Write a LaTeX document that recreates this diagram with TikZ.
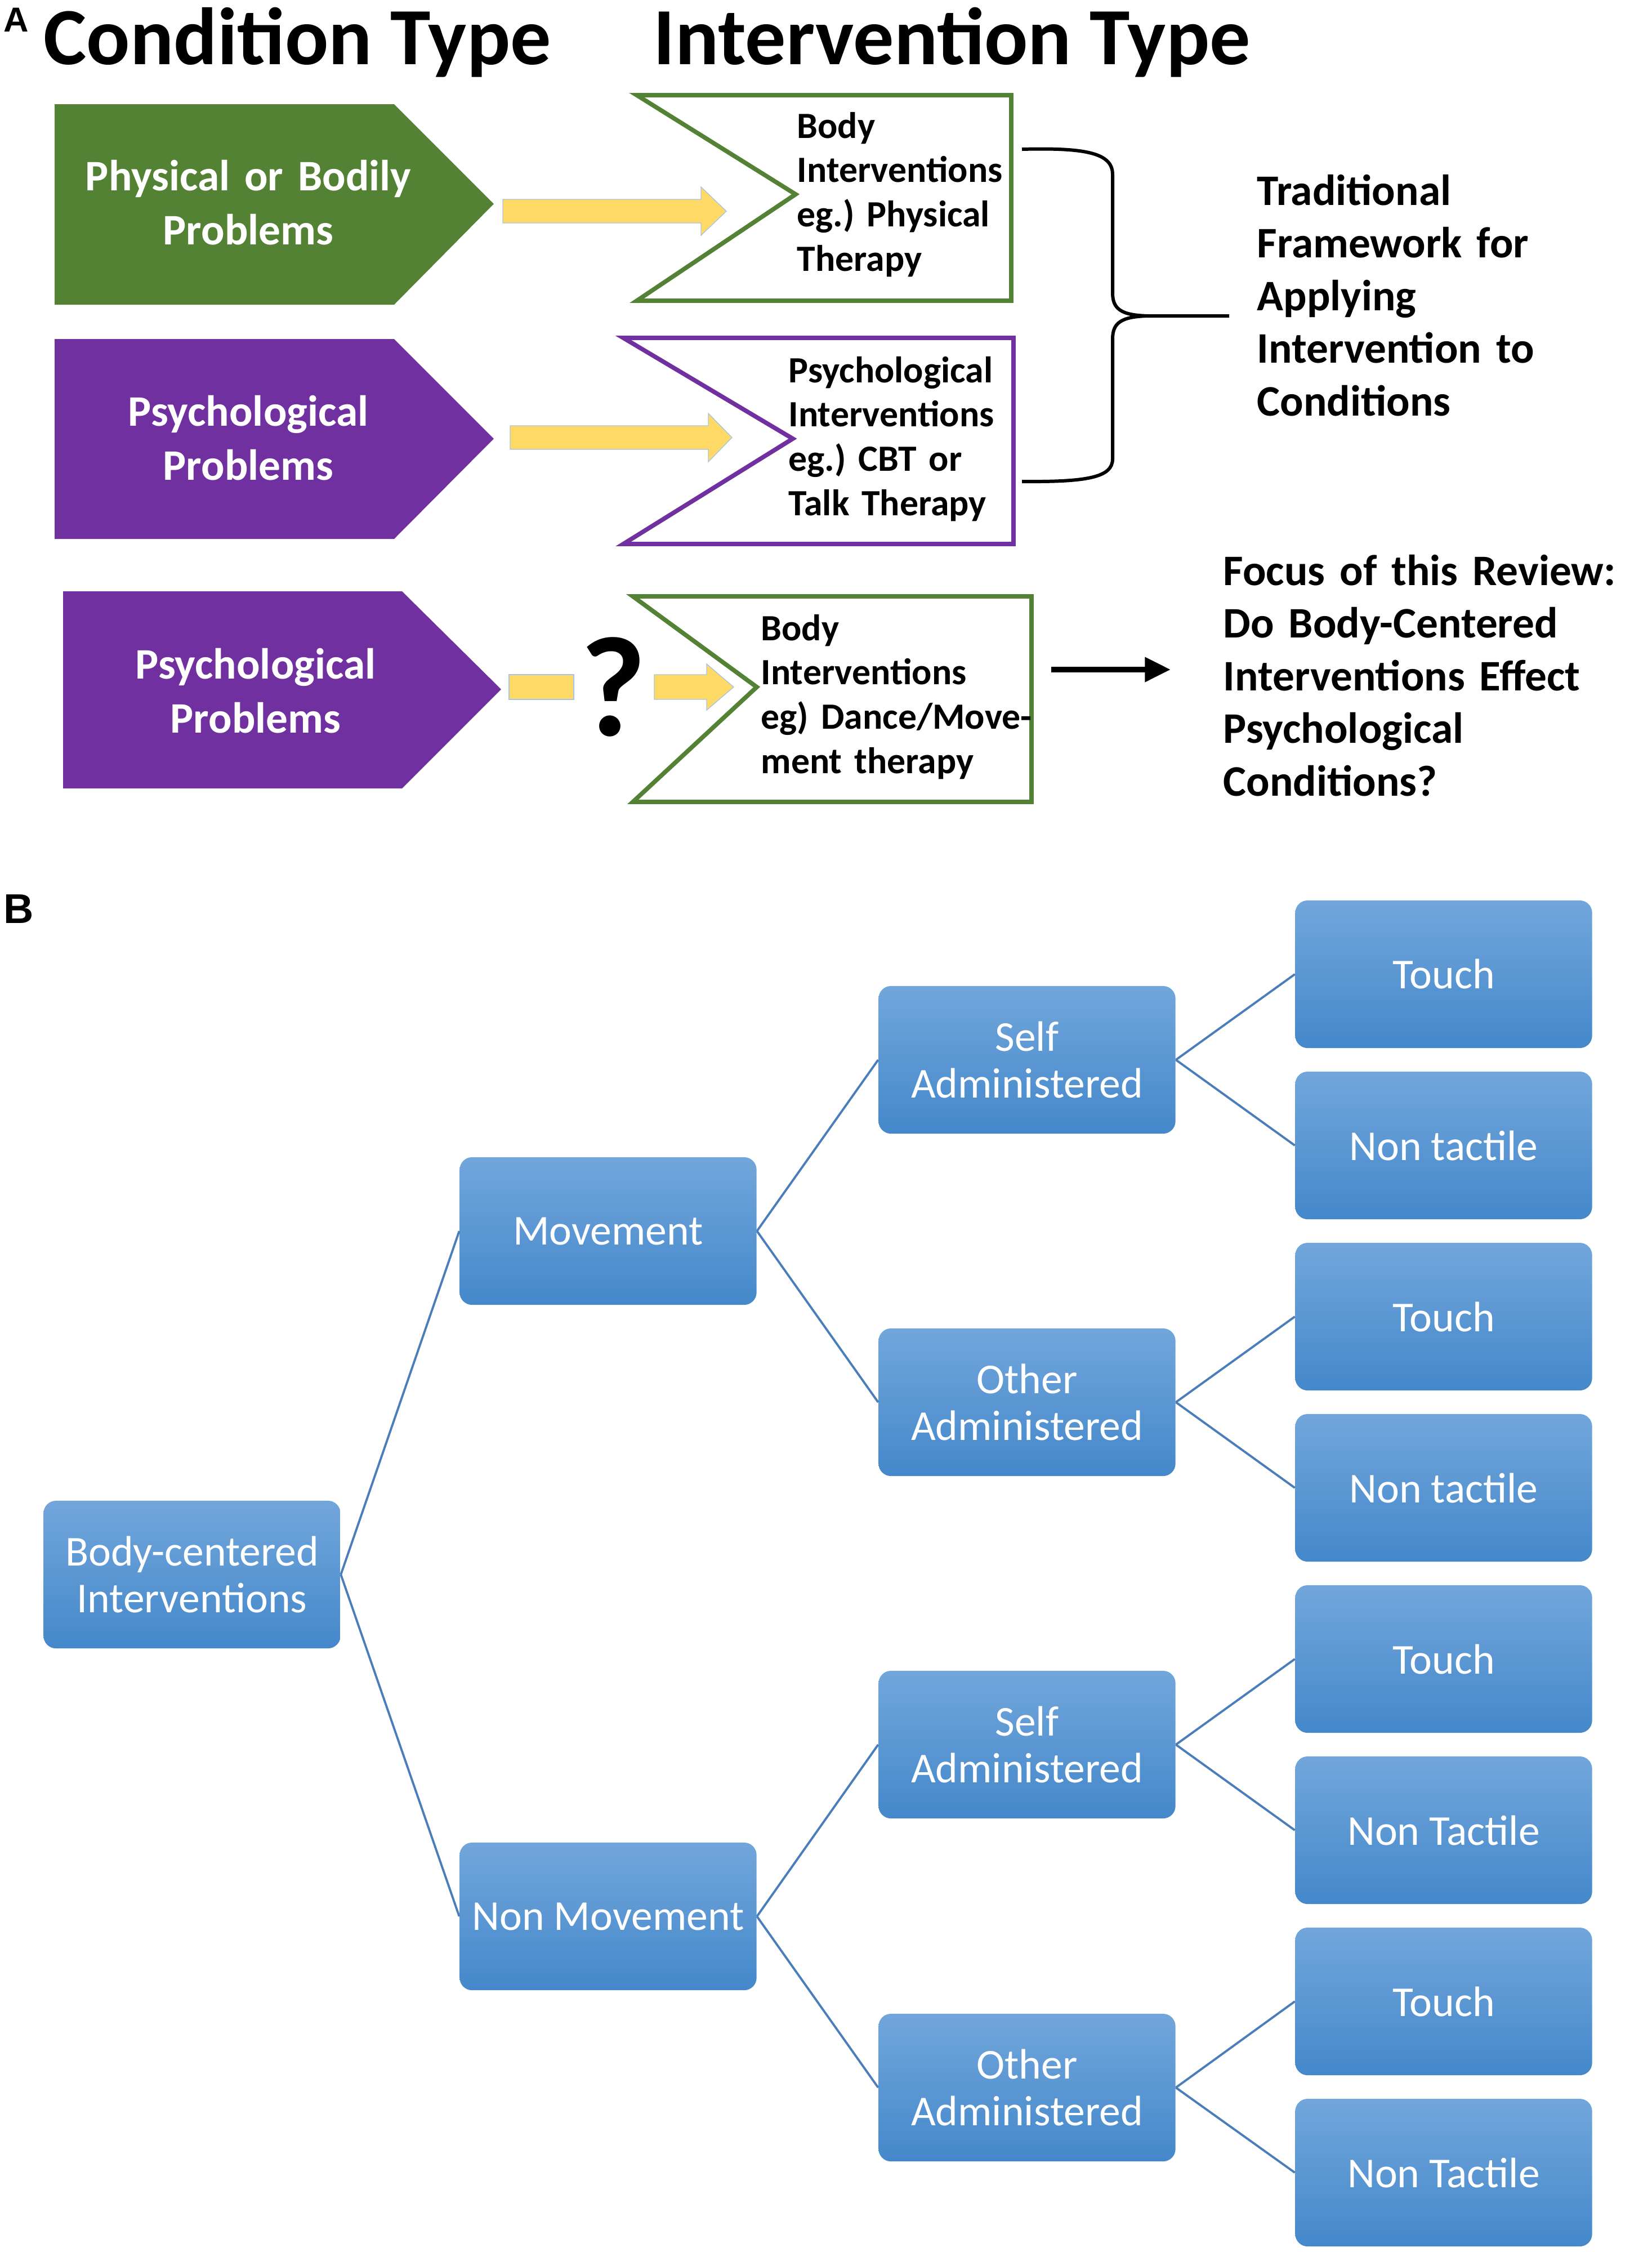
\documentclass[tikz,border=0pt]{standalone}
\usepackage{fontspec}
\setmainfont{Carlito}
\newfontfamily\labelfont{Liberation Sans}
\usetikzlibrary{arrows.meta}

\definecolor{probgreen}{HTML}{548235}
\definecolor{probpurple}{HTML}{7030A0}
\definecolor{arrowyellow}{HTML}{FFD966}
\definecolor{arrowedge}{HTML}{A9C4E4}
\definecolor{boxtop}{HTML}{72A6DB}
\definecolor{boxbot}{HTML}{4488CB}
\definecolor{linkblue}{HTML}{4A7EBB}

\begin{document}
\begin{tikzpicture}[x=0.01cm, y=-0.01cm,
  paneltag/.style={anchor=base west, inner sep=0, font=\labelfont\bfseries\fontsize{#1}{#1}\selectfont},
  title/.style={anchor=base west, inner sep=0, font=\fontsize{41}{48}\selectfont\bfseries},
  condtext/.style={anchor=base, inner sep=0, text width=7cm, align=center, text=white, font=\fontsize{22}{27.3}\selectfont\bfseries},
  inttext/.style={anchor=base west, inner sep=0, text width=6cm, align=left, font=\fontsize{18.7}{22.4}\selectfont\bfseries},
  notetext/.style={anchor=base west, inner sep=0, text width=7cm, align=left, font=\fontsize{22}{26.6}\selectfont\bfseries},
  fatarrow/.style={fill=arrowyellow, draw=arrowedge, line width=0.4pt},
  chevron/.style={line width=2.2pt, line join=miter, fill=white},
  bluebox/.style={rectangle, rounded corners=0.22cm, top color=boxtop, bottom color=boxbot, minimum width=5.27cm, minimum height=2.62cm, inner sep=0, align=center, text=white, font=\fontsize{21.5}{23.6}\selectfont},
  link/.style={draw=linkblue, line width=1.1pt}]

% Page
\fill[white] (0,0) rectangle (2870,3999);

% Panel A: headings
\node[paneltag=17.5] (taga) at (6,56) {A};
\node[title] (condtitle) at (77,114) {Condition Type};
\node[title] (inttitle) at (1160,114) {Intervention Type};

% Drawing condition arrows
\fill[probgreen] (97,185) -- (700,185) -- (877,362) -- (700,541) -- (97,541) -- cycle;
\fill[probpurple] (97,602) -- (700,602) -- (877,779) -- (700,957) -- (97,957) -- cycle;
\fill[probpurple] (112,1050) -- (714,1050) -- (890,1224) -- (714,1400) -- (112,1400) -- cycle;
\node[condtext] (physprob) at (441,338) {Physical or Bodily\\Problems};
\node[condtext] (psyprob) at (441,756) {Psychological\\Problems};
\node[condtext] (psyprobq) at (454,1205) {Psychological\\Problems};

% Drawing yellow arrows
\draw[fatarrow] (893,354) -- (1245,354) -- (1245,332) -- (1290,375) -- (1245,418) -- (1245,396) -- (893,396) -- cycle;
\draw[fatarrow] (906,756) -- (1258,756) -- (1258,734) -- (1300,777) -- (1258,820) -- (1258,798) -- (906,798) -- cycle;
\draw[fatarrow] (904,1198) rectangle (1019,1242);
\draw[fatarrow] (1162,1198) -- (1255,1198) -- (1255,1179) -- (1303,1220) -- (1255,1261) -- (1255,1242) -- (1162,1242) -- cycle;
\node[inner sep=0, font=\fontsize{72}{72}\selectfont\bfseries] (qmark) at (1089,1220) {?};

% Drawing intervention chevrons
\draw[chevron, draw=probgreen] (1131,169) -- (1796,169) -- (1796,534) -- (1131,534) -- (1413,345) -- cycle;
\draw[chevron, draw=probpurple] (1107,600) -- (1800,600) -- (1800,966) -- (1107,966) -- (1408,779) -- cycle;
\draw[chevron, draw=probgreen] (1124,1059) -- (1832,1059) -- (1832,1424) -- (1124,1424) -- (1344,1220) -- cycle;
\node[inttext] (bodyint) at (1415,245) {Body\\Interventions\\eg.)\ Physical\\Therapy};
\node[inttext] (psyint) at (1400,679) {Psychological\\Interventions\\eg.)\ CBT or\\Talk Therapy};
\node[inttext] (danceint) at (1351,1137) {Body\\Interventions\\eg) Dance/Move-\\ment therapy};

% Drawing brace and notes
\draw[line width=1.7pt] (1815,265) .. controls (1930,262) and (1976,272) .. (1976,310) -- (1976,520)
  .. controls (1976,548) and (1990,560) .. (2040,561) -- (2183,561);
\draw[line width=1.7pt] (2040,561) .. controls (1990,562) and (1976,574) .. (1976,602) -- (1976,815)
  .. controls (1976,848) and (1930,856) .. (1815,855);
\node[notetext] (tradnote) at (2232,364) {Traditional\\Framework for\\Applying\\Intervention to\\Conditions};
\node[notetext] (focusnote) at (2172,1039) {Focus of this Review:\\Do Body-Centered\\Interventions Effect\\Psychological\\Conditions?};
\coordinate (focusfrom) at (1867,1189);
\coordinate (focusto) at (2079,1189);
\draw[line width=2.8pt, -{Triangle[length=13pt, width=12pt]}] (focusfrom) -- (focusto);

% Panel B: tree of interventions
\node[paneltag=21] (tagb) at (6,1639) {B};

\node[bluebox] (root) at (341,2796) {Body-centered\\Interventions};
\node[bluebox] (move) at (1080,2186) {Movement};
\node[bluebox] (nonmove) at (1080,3403) {Non Movement};
\node[bluebox] (selfa) at (1824,1882) {Self\\Administered};
\node[bluebox] (othera) at (1824,2490) {Other\\Administered};
\node[bluebox] (selfb) at (1824,3098) {Self\\Administered};
\node[bluebox] (otherb) at (1824,3707) {Other\\Administered};
\node[bluebox] (toucha) at (2564,1730) {Touch};
\node[bluebox] (nontaca) at (2564,2034) {Non tactile};
\node[bluebox] (touchb) at (2564,2338) {Touch};
\node[bluebox] (nontacb) at (2564,2642) {Non tactile};
\node[bluebox] (touchc) at (2564,2946) {Touch};
\node[bluebox] (nontacc) at (2564,3250) {Non Tactile};
\node[bluebox] (touchd) at (2564,3554) {Touch};
\node[bluebox] (nontacd) at (2564,3858) {Non Tactile};

% Drawing links
\draw[link] (root.east) -- (move.west);
\draw[link] (root.east) -- (nonmove.west);
\draw[link] (move.east) -- (selfa.west);
\draw[link] (move.east) -- (othera.west);
\draw[link] (nonmove.east) -- (selfb.west);
\draw[link] (nonmove.east) -- (otherb.west);
\draw[link] (selfa.east) -- (toucha.west);
\draw[link] (selfa.east) -- (nontaca.west);
\draw[link] (othera.east) -- (touchb.west);
\draw[link] (othera.east) -- (nontacb.west);
\draw[link] (selfb.east) -- (touchc.west);
\draw[link] (selfb.east) -- (nontacc.west);
\draw[link] (otherb.east) -- (touchd.west);
\draw[link] (otherb.east) -- (nontacd.west);

\end{tikzpicture}
\end{document}
